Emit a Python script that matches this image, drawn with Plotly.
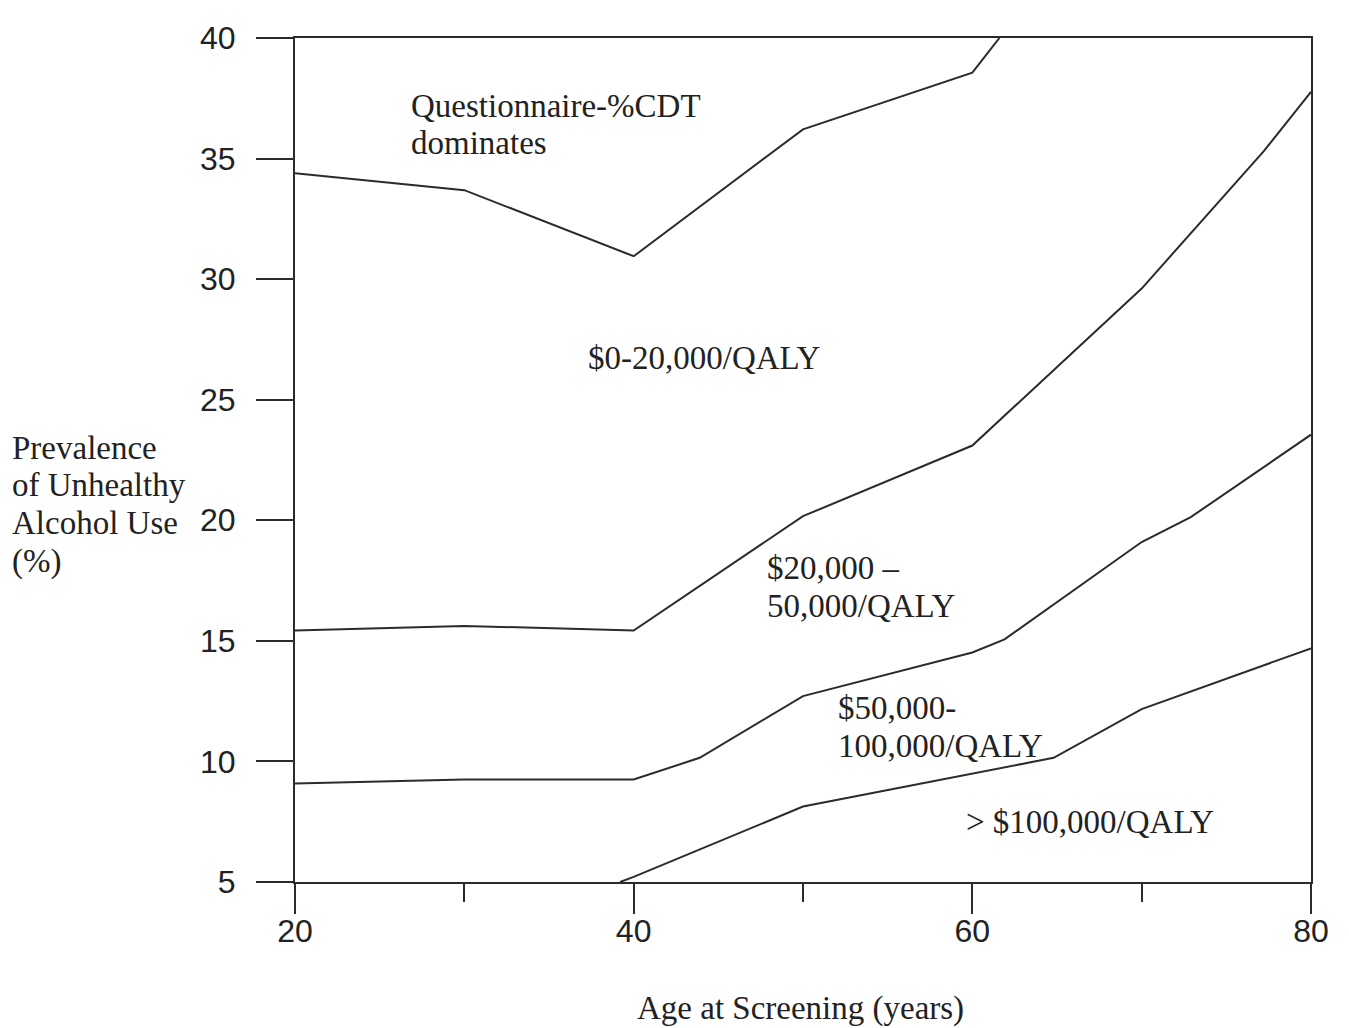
import plotly.graph_objects as go

# Boundary curves (age at screening vs prevalence %)
dom_age = [20, 30, 40, 50, 60, 61.6]
dom_prev = [34.39, 33.69, 30.95, 36.21, 38.56, 40.0]

b20_age = [20, 30, 40, 50, 60, 70, 77.2, 80]
b20_prev = [15.43, 15.62, 15.43, 20.17, 23.10, 29.61, 35.3, 37.77]

b50_age = [20, 30, 40, 43.9, 50, 60, 61.9, 70, 72.9, 80]
b50_prev = [9.08, 9.25, 9.25, 10.15, 12.71, 14.52, 15.06, 19.10, 20.13, 23.55]

b100_age = [39.2, 40, 50, 64.8, 70, 80]
b100_prev = [5.0, 5.21, 8.13, 10.15, 12.17, 14.69]

x_major = [20, 40, 60, 80]
x_minor = [30, 50, 70]
y_ticks = [5, 10, 15, 20, 25, 30, 35, 40]

LINE = "#2b2b2b"
TXT = "#222222"
SERIF = "Liberation Serif, Times New Roman, serif"
SANS = "Liberation Sans, Arial, sans-serif"

fig = go.Figure()
for xs, ys in [(dom_age, dom_prev), (b20_age, b20_prev), (b50_age, b50_prev), (b100_age, b100_prev)]:
    fig.add_trace(go.Scatter(x=xs, y=ys, mode="lines",
                             line=dict(color=LINE, width=2), showlegend=False,
                             hoverinfo="skip"))

OFF = 8  # page body margin
W, H = 1349 - OFF, 1028 - OFF
L, T = 295 - OFF, 33 - OFF
pw, ph = 1016, 849
R = W - L - pw
B = H - T - ph


def px(xp):
    return (xp - 295 - 2) / pw


def py(yp):
    return (882 - yp) / ph


annos = []
region_labels = [
    ("Questionnaire-%CDT", 411, 101),
    ("dominates", 411, 139),
    ("$0-20,000/QALY", 588, 355),
    ("$20,000 \u2013", 767, 566),
    ("50,000/QALY", 767, 604),
    ("$50,000-", 838, 707),
    ("100,000/QALY", 838, 745),
    ("> $100,000/QALY", 966, 822),
]
for txt, xp, yp in region_labels:
    annos.append(dict(text=txt, x=px(xp), y=py(yp), xref="paper", yref="paper",
                      xanchor="left", yanchor="middle", showarrow=False,
                      font=dict(family=SERIF, size=33, color=TXT)))

ytitle = [("Prevalence", 445), ("of Unhealthy", 483), ("Alcohol Use", 521), ("(%)", 560)]
for txt, yp in ytitle:
    annos.append(dict(text=txt, x=px(12), y=py(yp), xref="paper", yref="paper",
                      xanchor="left", yanchor="middle", showarrow=False,
                      font=dict(family=SERIF, size=33, color=TXT)))

annos.append(dict(text="Age at Screening (years)", x=(800 - 295) / pw, y=py(1009),
                  xref="paper", yref="paper", xanchor="center", yanchor="middle",
                  showarrow=False, font=dict(family=SERIF, size=33, color=TXT)))

fig.update_layout(
    width=W, height=H,
    margin=dict(l=L, r=R, t=T, b=B, pad=0),
    paper_bgcolor="white", plot_bgcolor="white",
    annotations=annos,
    xaxis=dict(range=[20, 80], tickvals=x_major, ticktext=[str(v) for v in x_major],
               ticks="outside", ticklen=30, tickwidth=2, tickcolor=LINE,
               minor=dict(tickvals=x_minor, ticks="outside", ticklen=18,
                          tickwidth=2, tickcolor=LINE, showgrid=False),
               showline=True, linecolor=LINE, linewidth=2, mirror=True,
               showgrid=False, zeroline=False, ticklabelstandoff=-10,
               tickfont=dict(family=SANS, size=32, color=TXT)),
    yaxis=dict(range=[5, 40], tickvals=y_ticks, ticktext=[str(v) for v in y_ticks],
               ticks="outside", ticklen=37, tickwidth=2, tickcolor=LINE,
               showline=True, linecolor=LINE, linewidth=2, mirror=True,
               showgrid=False, zeroline=False, ticklabelstandoff=14,
               tickfont=dict(family=SANS, size=32, color=TXT)),
)

fig.write_html("out.html")
